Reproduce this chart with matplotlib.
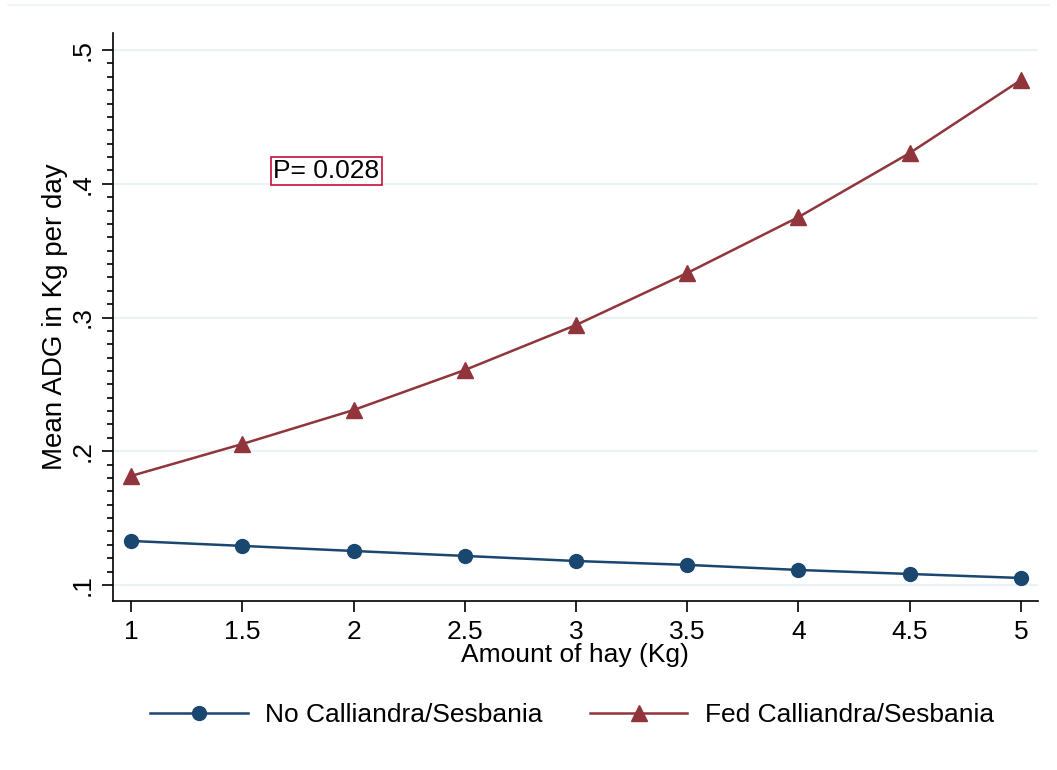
import numpy as np
import matplotlib.pyplot as plt
from matplotlib.ticker import FixedLocator

plt.rcParams['font.family'] = ['Liberation Sans', 'DejaVu Sans']

# data
hay = [1, 1.5, 2, 2.5, 3, 3.5, 4, 4.5, 5]
no_calli = [0.1329, 0.1292, 0.1254, 0.1217, 0.1179, 0.1150, 0.1112, 0.1082, 0.1052]
fed_calli = [0.1815, 0.2054, 0.2308, 0.2607, 0.2944, 0.3333, 0.3751, 0.4230, 0.4776]
y_ticks = [0.1, 0.2, 0.3, 0.4, 0.5]
y_tick_labels = ['.1', '.2', '.3', '.4', '.5']
x_ticks = [1, 1.5, 2, 2.5, 3, 3.5, 4, 4.5, 5]
x_tick_labels = ['1', '1.5', '2', '2.5', '3', '3.5', '4', '4.5', '5']

blue = '#1a476f'
red = '#90353b'
fs = 19

fig = plt.figure(figsize=(10.57, 7.70), dpi=100)
ax = fig.add_axes([0.1069, 0.2195, 0.875, 0.7375])

for y in y_ticks:
    ax.axhline(y, color='#eaf2f3', lw=1.5, zorder=0)

ax.plot(hay, no_calli, color=blue, lw=1.8, marker='o', ms=10,
        label='No Calliandra/Sesbania')
ax.plot(hay, fed_calli, color=red, lw=1.8, marker='^', ms=11,
        label='Fed Calliandra/Sesbania')

ax.set_xlim(0.919, 5.076)
ax.set_ylim(0.088, 0.5127)

ax.set_xticks(x_ticks)
ax.set_xticklabels(x_tick_labels, fontsize=fs)
ax.set_yticks(y_ticks)
ax.set_yticklabels(y_tick_labels, fontsize=fs, rotation=90, va='center')
ax.yaxis.set_minor_locator(FixedLocator(np.arange(0.1, 0.5001, 0.01)))
ax.tick_params(axis='both', which='major', length=8, width=1.2, direction='out')
ax.tick_params(axis='x', which='major', pad=6)
ax.tick_params(axis='y', which='major', pad=5)
ax.tick_params(axis='y', which='minor', length=4.5, width=1.2)

for s in ['top', 'right']:
    ax.spines[s].set_visible(False)
for s in ['left', 'bottom']:
    ax.spines[s].set_linewidth(1.2)

ax.set_xlabel('Amount of hay (Kg)', fontsize=fs, labelpad=-1)
ax.set_ylabel('Mean ADG in Kg per day', fontsize=20, labelpad=2)

ax.text(1.64, 0.4095, 'P= 0.028', fontsize=fs, va='center', ha='left',
        bbox=dict(boxstyle='square,pad=0.08', fc='white', ec='#c4113a', lw=1.2))

fig.legend(loc='center', bbox_to_anchor=(0.541, 0.0714), ncol=2, frameon=False,
           fontsize=fs, handlelength=3.7, columnspacing=1.8, handletextpad=0.65)

fig.add_artist(plt.Line2D([0.008, 0.992], [0.993, 0.993], color='#eef2f3', lw=1.2))

fig.savefig('out.png', dpi=100)
